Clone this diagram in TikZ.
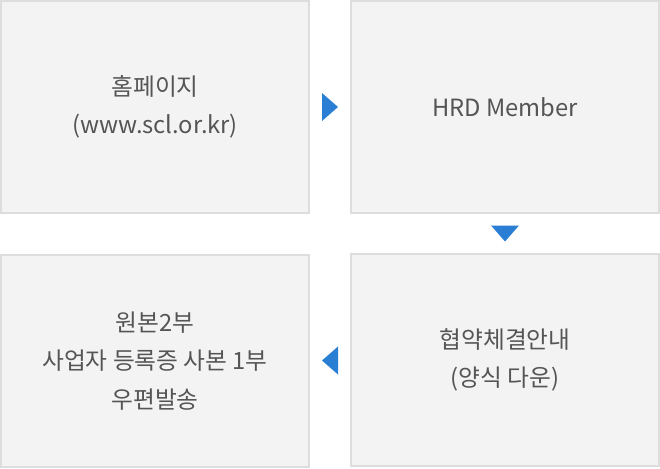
\documentclass[tikz,border=0pt]{standalone}
\usepackage{fontspec}
\setmainfont{Noto Sans CJK KR}
\usetikzlibrary{calc}
\definecolor{boxfill}{HTML}{F3F3F3}
\definecolor{boxline}{HTML}{DDDDDD}
\definecolor{stepblue}{HTML}{2A7FD4}
\definecolor{textgray}{HTML}{555555}
\tikzset{
  stepbox/.style={draw=boxline, fill=boxfill, line width=1.5pt,
    minimum width=231pt, minimum height=159pt, align=center,
    text=textgray, font=\fontsize{17.8}{29}\selectfont},
}
\begin{document}
\begin{tikzpicture}[x=0.75pt, y=-0.75pt]
        \useasboundingbox (0, 0) rectangle (660, 468);
        \node[stepbox] (home) at (155, 107) {홈페이지\\(www.scl.or.kr)};
        \node[stepbox] (hrd) at (505, 107) {HRD Member};
        \node[stepbox] (contract) at (505, 360) {협약체결안내\\(양식 다운)};
        \node[stepbox] (mail) at (155, 361) {원본2부\\사업자 등록증 사본 1부\\우편발송};

        % arrows between the steps
        \coordinate (a1) at ($(home.east)!0.5!(hrd.west)$);
        \coordinate (a2) at ($(hrd.south)!0.5!(contract.north)$);
        \coordinate (a3) at ($(contract.west)!0.5!(mail.east)$);
        \fill[stepblue] (a1) ++(-8, -14) -- ++(16, 14) -- ++(-16, 14) -- cycle;
        \fill[stepblue] (a2) ++(-14, -8) -- ++(28, 0) -- ++(-14, 16) -- cycle;
        \fill[stepblue] (a3) ++(8, -14) -- ++(-16, 14) -- ++(16, 14) -- cycle;
\end{tikzpicture}
\end{document}
